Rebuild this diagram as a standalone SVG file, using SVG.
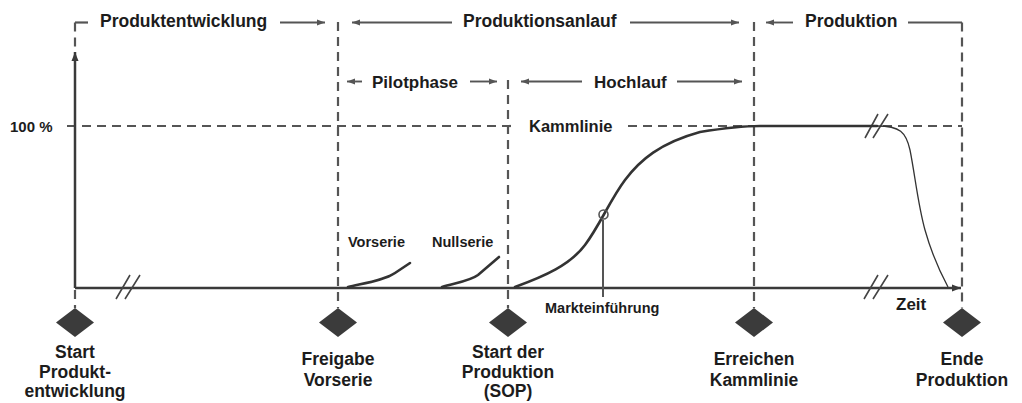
<svg xmlns="http://www.w3.org/2000/svg" width="1022" height="403" viewBox="0 0 1022 403">
<style>
text{font-family:"Liberation Sans",Arial,sans-serif;font-weight:bold;fill:#1c1c1c}
.h1{font-size:17.5px}
.h2{font-size:17px}
.sm{font-size:14.5px}
.lbl{font-size:17.5px;text-anchor:middle}
.dash{stroke:#555;stroke-width:2.2;stroke-dasharray:9 6;fill:none}
.br{stroke:#555;stroke-width:2.2;fill:none}
.ar{stroke:#555;stroke-width:1.9;fill:none;marker-end:url(#ah)}
.axis{stroke:#3a3a3a;stroke-width:2.5;fill:none}
.curve{stroke:#333;stroke-width:2.6;fill:none;stroke-linecap:round}
.thin{stroke:#333;stroke-width:1.3;fill:none}
.brk{stroke:#444;stroke-width:1.6}
.dia{fill:#3b3b3b}
</style>
<defs>
<marker id="ah" markerUnits="userSpaceOnUse" markerWidth="9" markerHeight="8" refX="8" refY="4" orient="auto">
<path d="M0,1 L8,4 L0,7 Z" fill="#555"/>
</marker>
<marker id="axh" markerUnits="userSpaceOnUse" markerWidth="10" markerHeight="8" refX="9" refY="4" orient="auto">
<path d="M0,0.5 L9,4 L0,7.5 Z" fill="#3a3a3a"/>
</marker>
</defs>

<g id="connectors">
<path class="br" d="M88,22.5 H75"/>
<path class="dash" d="M75,22.5 V50"/>
<path class="dash" d="M75,290 V308"/>
<path class="dash" d="M338,22 V308"/>
<path class="dash" d="M508,80 V308"/>
<path class="dash" d="M754,22 V308"/>
<path class="br" d="M908,22.5 H962"/>
<path class="dash" d="M962,22.5 V308"/>
<path class="dash" d="M67,126 H513"/>
<path class="dash" d="M628,126 H962"/>
<path class="axis" d="M75,288 V52" marker-end="url(#axh)"/>
<path class="axis" d="M75,288 H961" marker-end="url(#axh)"/>
<path class="brk" d="M116,299 L130,275 M125,299 L140,275"/>
<path class="brk" d="M864,299 L878,275 M873,299 L888,275"/>
<path class="brk" d="M865,138 L878,114 M873,138 L888,114"/>
<path class="curve" d="M348,287 C365,283 385,280 395,273 L410,263"/>
<path class="curve" d="M442,287 C455,283 470,281 478,275 L499,257"/>
<path class="curve" d="M515,287 C545,276 570,265 585,245 S610,200 625,180 S660,143 700,132 C725,128 745,126 760,126 L877,126"/>
<path class="thin" d="M877,126 C900,126 906,132 910,150 C915,175 918,205 925,230 C932,255 940,272 948,287"/>
<path d="M603,220 V297" stroke="#555" stroke-width="2"/>
<circle cx="603.5" cy="214.5" r="4.5" fill="none" stroke="#555" stroke-width="1.6"/>
</g>

<g id="phase-produktentwicklung">
<text class="h1" x="100" y="27">Produktentwicklung</text>
<path class="ar" d="M280,22.5 H325"/>
</g>
<g id="phase-produktionsanlauf">
<path class="ar" d="M452,22.5 H352"/>
<text class="h1" x="463" y="27">Produktionsanlauf</text>
<path class="ar" d="M630,22.5 H739"/>
</g>
<g id="phase-produktion">
<path class="ar" d="M793,22.5 H766"/>
<text class="h1" x="805" y="27">Produktion</text>
</g>
<g id="phase-pilotphase">
<path class="ar" d="M362,81.5 H347"/>
<text class="h2" x="372" y="88">Pilotphase</text>
<path class="ar" d="M470,81.5 H497"/>
</g>
<g id="phase-hochlauf">
<path class="ar" d="M582,81.5 H521"/>
<text class="h2" x="594" y="88">Hochlauf</text>
<path class="ar" d="M677,81.5 H742"/>
</g>

<g id="labels">
<text x="10" y="131.5" style="font-size:15px">100 %</text>
<text x="529" y="132" style="font-size:16.5px">Kammlinie</text>
<text class="sm" x="348" y="247">Vorserie</text>
<text class="sm" x="432" y="247">Nullserie</text>
<text class="sm" x="545" y="313">Markteinführung</text>
<text x="896" y="310" style="font-size:17px">Zeit</text>
</g>

<g id="ms-start-entwicklung">
<polygon class="dia" points="56,322.5 75,308 94,322.5 75,337"/>
<text class="lbl" x="75" y="358">Start</text>
<text class="lbl" x="75" y="378">Produkt-</text>
<text class="lbl" x="75" y="397">entwicklung</text>
</g>
<g id="ms-freigabe-vorserie">
<polygon class="dia" points="319,322.5 338,308 357,322.5 338,337"/>
<text class="lbl" x="338" y="365">Freigabe</text>
<text class="lbl" x="338" y="386">Vorserie</text>
</g>
<g id="ms-sop">
<polygon class="dia" points="489,322.5 508,308 527,322.5 508,337"/>
<text class="lbl" x="508" y="358">Start der</text>
<text class="lbl" x="508" y="378">Produktion</text>
<text class="lbl" x="508" y="397">(SOP)</text>
</g>
<g id="ms-kammlinie">
<polygon class="dia" points="735,322.5 754,308 773,322.5 754,337"/>
<text class="lbl" x="754" y="365">Erreichen</text>
<text class="lbl" x="754" y="386">Kammlinie</text>
</g>
<g id="ms-ende">
<polygon class="dia" points="943,322.5 962,308 981,322.5 962,337"/>
<text class="lbl" x="962" y="365">Ende</text>
<text class="lbl" x="962" y="386">Produktion</text>
</g>
</svg>
